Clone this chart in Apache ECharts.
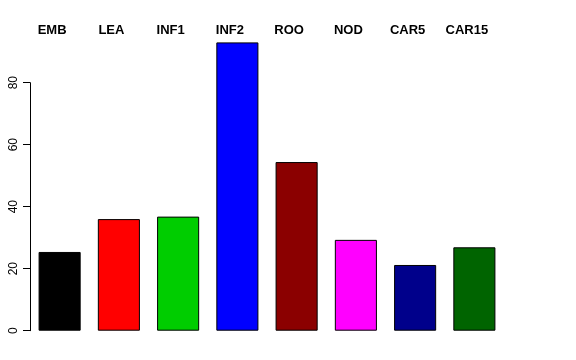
<!DOCTYPE html>
<html>
<head>
<meta charset="utf-8">
<script src="https://cdn.jsdelivr.net/npm/echarts@6/dist/echarts.min.js"></script>
<style>html,body{margin:0;padding:0;background:#fff}#c{width:576px;height:360px}</style>
</head>
<body>
<div id="c"></div>
<script>
const categories = ["EMB", "LEA", "INF1", "INF2", "ROO", "NOD", "CAR5", "CAR15"];
const values = [25.4, 36.0, 36.8, 93.0, 54.4, 29.3, 21.2, 26.9];
const barColors = ["#000000", "#FF0000", "#00CD00", "#0000FF", "#8B0000", "#FF00FF", "#00008B", "#006400"];
const yTicks = [0, 20, 40, 60, 80];

const chart = echarts.init(document.getElementById('c'), null, {renderer: 'canvas'});
chart.setOption({
  animation: false,
  backgroundColor: '#ffffff',
  grid: {left: 30, width: 474, top: 82.7, height: 248},
  xAxis: {
    type: 'category',
    position: 'top',
    data: categories,
    axisLine: {show: false},
    axisTick: {show: false},
    axisLabel: {
      interval: 0,
      margin: 46,
      fontFamily: 'Liberation Sans, Arial, sans-serif',
      fontWeight: 'bold',
      fontSize: 13,
      color: '#000',
      padding: [0, 15, 0, 0]
    }
  },
  yAxis: {
    type: 'value',
    min: yTicks[0],
    max: yTicks[yTicks.length - 1],
    interval: 20,
    splitLine: {show: false},
    axisLine: {show: true, lineStyle: {color: '#000', width: 1}},
    axisTick: {show: true, length: 7, lineStyle: {color: '#000'}},
    axisLabel: {
      rotate: 90,
      margin: 10,
      fontFamily: 'Liberation Sans, Arial, sans-serif',
      fontSize: 12,
      color: '#000'
    }
  },
  series: [{
    type: 'bar',
    clip: false,
    barCategoryGap: '29%',
    data: values.map((v, i) => ({value: v, itemStyle: {color: barColors[i]}})),
    itemStyle: {borderColor: '#000', borderWidth: 1}
  }]
});
</script>
</body>
</html>
